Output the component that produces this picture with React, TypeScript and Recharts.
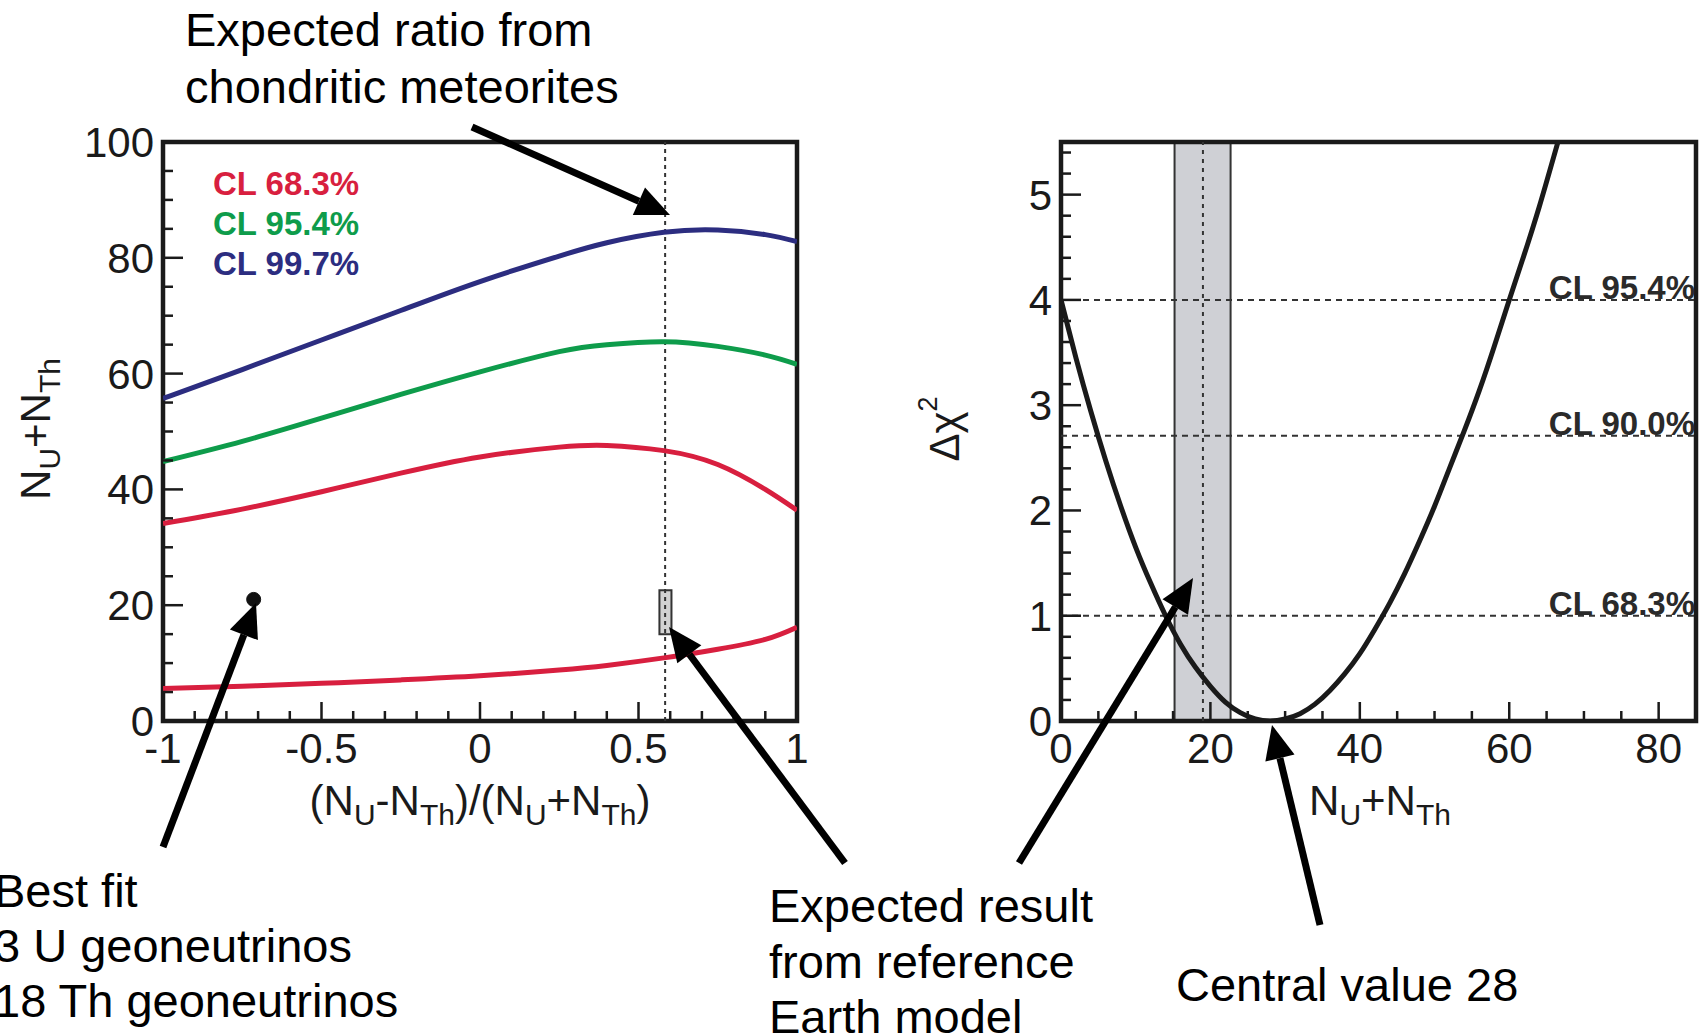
import React from "react";
import {
  LineChart,
  Line,
  XAxis,
  YAxis,
  ReferenceLine,
  ReferenceArea,
  ReferenceDot,
  Legend,
} from "recharts";

const FONT = "'Liberation Sans', Arial, Helvetica, sans-serif";
const INK = "#1a1a1a";

// ---- left panel: contours in (NU-NTh)/(NU+NTh) vs NU+NTh
const RATIO = [-1, -0.75, -0.5, -0.25, 0, 0.25, 0.4, 0.58, 0.75, 0.9, 1];
const CL683_UPPER = [34.1, 36.6, 39.6, 42.8, 45.6, 47.3, 47.6, 46.7, 44.3, 40.0, 36.4];
const CL683_LOWER = [5.6, 6.0, 6.5, 7.1, 7.8, 8.8, 9.6, 10.9, 12.4, 14.1, 16.2];
const CL954 = [44.8, 48.3, 52.3, 56.4, 60.3, 63.8, 65.0, 65.5, 64.7, 63.2, 61.6];
const CL997 = [55.7, 60.7, 65.8, 70.9, 75.9, 80.3, 82.6, 84.4, 84.8, 84.0, 82.8];

const BEST_FIT = { ratio: -0.714, total: 21 };
const CHONDRITIC_RATIO = 0.584;
const REF_BOX_RATIO = [0.566, 0.604];
const REF_BOX_TOTAL = [15.0, 22.6];

const LEFT_X_LABELS = [-1, -0.5, 0, 0.5, 1];
const LEFT_Y_LABELS = [0, 20, 40, 60, 80, 100];

// ---- right panel: delta chi2 profile
const N_TOTAL = [0, 2, 4, 6, 8, 10, 12, 14, 16, 18, 20, 22, 24, 26, 28, 30, 32, 34, 36, 38, 40, 42, 44, 46, 48, 50, 52, 54, 56, 58, 60, 62, 64, 66, 67];
const DELTA_CHI2 = [4.0, 3.45, 2.94, 2.47, 2.04, 1.65, 1.31, 1.0, 0.73, 0.51, 0.33, 0.18, 0.08, 0.02, 0, 0.02, 0.07, 0.16, 0.29, 0.45, 0.64, 0.87, 1.12, 1.4, 1.71, 2.04, 2.4, 2.76, 3.14, 3.56, 4.0, 4.43, 4.88, 5.37, 5.62];

const CL_LEVELS = [4, 2.71, 1];
const CL_LEVEL_LABELS = ["CL 95.4%", "CL 90.0%", "CL 68.3%"];
const REF_BAND = [15.2, 22.7];
const REF_CENTER = 19;

const RIGHT_X_LABELS = [0, 20, 40, 60, 80];
const RIGHT_Y_LABELS = [0, 1, 2, 3, 4, 5];

const leftData = RATIO.map((x, i) => ({
  x,
  up: CL683_UPPER[i],
  lo: CL683_LOWER[i],
  g: CL954[i],
  b: CL997[i],
}));
const rightData = N_TOTAL.map((n, i) => ({ n, d: DELTA_CHI2[i] }));

const steps = (from: number, to: number, step: number) => {
  const out: number[] = [];
  for (let v = from; v <= to + 1e-9; v += step) out.push(Math.round(v * 1000) / 1000);
  return out;
};

const isIn = (v: number, arr: number[]) => arr.some((a) => Math.abs(a - v) < 1e-6);

const makeXTick = (labels: number[]) => (props: any) => {
  const { x, y, payload } = props;
  const major = isIn(payload.value, labels);
  return (
    <g>
      <line x1={x} x2={x} y1={y} y2={y - (major ? 19 : 10)} stroke={INK} strokeWidth={2.5} />
      {major && (
        <text x={x} y={y + 42} textAnchor="middle" fontSize={42} fontFamily={FONT} fill={INK}>
          {String(payload.value)}
        </text>
      )}
    </g>
  );
};

const makeYTick = (labels: number[]) => (props: any) => {
  const { x, y, payload } = props;
  const major = isIn(payload.value, labels);
  return (
    <g>
      <line x1={x} x2={x + (major ? 20 : 10)} y1={y} y2={y} stroke={INK} strokeWidth={2.5} />
      {major && (
        <text x={x - 9} y={y + 15} textAnchor="end" fontSize={42} fontFamily={FONT} fill={INK}>
          {String(payload.value)}
        </text>
      )}
    </g>
  );
};

const LegendBox = (props: any) => {
  const items = (props.payload || []).filter((e: any) => e.type !== "none");
  return (
    <div style={{ fontFamily: FONT, fontWeight: "bold", fontSize: 33, lineHeight: "40px" }}>
      {items.map((e: any) => (
        <div key={e.value} style={{ color: e.color }}>
          {e.value}
        </div>
      ))}
    </div>
  );
};

// annotation arrows (page pixels)
const ARROWS = [
  [472, 127, 670, 215],
  [163, 847, 256, 603],
  [845, 863, 669, 627],
  [1019, 863, 1193, 578],
  [1320, 925, 1272, 725],
];

function Arrow({ a }: { a: number[] }) {
  const [x1, y1, x2, y2] = a;
  const ang = Math.atan2(y2 - y1, x2 - x1);
  const L = 34;
  const W = 15;
  const bx = x2 - L * Math.cos(ang);
  const by = y2 - L * Math.sin(ang);
  const px = -Math.sin(ang) * W;
  const py = Math.cos(ang) * W;
  return (
    <g>
      <line x1={x1} y1={y1} x2={bx} y2={by} stroke="#000" strokeWidth={7} />
      <polygon points={`${x2},${y2} ${bx + px},${by + py} ${bx - px},${by - py}`} fill="#000" />
    </g>
  );
}

// text made of [string, shift] pieces: shift 0 = normal, >0 = subscript, <0 = superscript
function Pieces({ parts, small }: { parts: [string, number][]; small: number }) {
  let cur = 0;
  return (
    <>
      {parts.map(([t, s], i) => {
        const dy = s - cur;
        cur = s;
        return (
          <tspan key={i} dy={dy} fontSize={s !== 0 ? small : undefined}>
            {t}
          </tspan>
        );
      })}
    </>
  );
}

const NU_NTH: [string, number][] = [["N", 0], ["U", 10], ["+N", 0], ["Th", 10]];
const RATIO_TITLE: [string, number][] = [
  ["(N", 0], ["U", 10], ["-N", 0], ["Th", 10], [")/(N", 0], ["U", 10], ["+N", 0], ["Th", 10], [")", 0],
];
const CHI_TITLE: [string, number][] = [["Δχ", 0], ["2", -22]];

export default function App() {
  return (
    <div style={{ position: "absolute", left: 0, top: 0, width: 1703, height: 1036, overflow: "hidden", background: "#fff", fontFamily: FONT }}>
      <div style={{ position: "absolute", left: 0, top: 0 }}>
        <LineChart width={820} height={860} data={leftData} margin={{ top: 142, right: 23, bottom: 0, left: 0 }}>
          <XAxis
            type="number"
            dataKey="x"
            domain={[-1, 1]}
            ticks={steps(-1, 1, 0.1)}
            interval={0}
            tickSize={0}
            tickMargin={0}
            axisLine={false}
            tickLine={false}
            height={139}
            allowDataOverflow
            tick={makeXTick(LEFT_X_LABELS)}
          />
          <YAxis
            type="number"
            domain={[0, 100]}
            ticks={steps(0, 100, 5)}
            interval={0}
            tickSize={0}
            tickMargin={0}
            axisLine={false}
            tickLine={false}
            width={163}
            allowDataOverflow
            tick={makeYTick(LEFT_Y_LABELS)}
          />
          <ReferenceArea
            x1={REF_BOX_RATIO[0]}
            x2={REF_BOX_RATIO[1]}
            y1={REF_BOX_TOTAL[0]}
            y2={REF_BOX_TOTAL[1]}
            fill="#d2d2d2"
            fillOpacity={1}
            stroke="#333"
            strokeWidth={2}
          />
          <ReferenceLine x={CHONDRITIC_RATIO} stroke="#333" strokeWidth={2} strokeDasharray="4 4" />
          <Line dataKey="up" name="CL 68.3%" type="natural" stroke="#d81f3f" strokeWidth={5} dot={false} isAnimationActive={false} />
          <Line dataKey="lo" name="CL 68.3% lower" legendType="none" type="natural" stroke="#d81f3f" strokeWidth={5} dot={false} isAnimationActive={false} />
          <Line dataKey="g" name="CL 95.4%" type="natural" stroke="#0e9c4b" strokeWidth={5} dot={false} isAnimationActive={false} />
          <Line dataKey="b" name="CL 99.7%" type="natural" stroke="#2c2d80" strokeWidth={5} dot={false} isAnimationActive={false} />
          <ReferenceDot x={BEST_FIT.ratio} y={BEST_FIT.total} r={7} fill="#111" stroke="#111" />
          <ReferenceArea x1={-1} x2={1} y1={0} y2={100} fill="none" fillOpacity={0} stroke={INK} strokeWidth={4.5} ifOverflow="visible" />
          <Legend
            layout="vertical"
            verticalAlign="middle"
            align="center"
            wrapperStyle={{ left: 213, top: 164, width: "auto" }}
            content={LegendBox}
          />
        </LineChart>
      </div>

      <div style={{ position: "absolute", left: 860, top: 0 }}>
        <LineChart width={843} height={860} data={rightData} margin={{ top: 142, right: 7, bottom: 0, left: 0 }}>
          <XAxis
            type="number"
            dataKey="n"
            domain={[0, 85]}
            ticks={steps(0, 85, 5)}
            interval={0}
            tickSize={0}
            tickMargin={0}
            axisLine={false}
            tickLine={false}
            height={139}
            allowDataOverflow
            tick={makeXTick(RIGHT_X_LABELS)}
          />
          <YAxis
            type="number"
            domain={[0, 5.5]}
            ticks={steps(0, 5.4, 0.2)}
            interval={0}
            tickSize={0}
            tickMargin={0}
            axisLine={false}
            tickLine={false}
            width={201}
            allowDataOverflow
            tick={makeYTick(RIGHT_Y_LABELS)}
          />
          <ReferenceArea x1={REF_BAND[0]} x2={REF_BAND[1]} y1={0} y2={5.5} fill="#cfd0d5" fillOpacity={1} stroke="#333" strokeWidth={2} />
          <ReferenceLine x={REF_CENTER} stroke="#333" strokeWidth={2} strokeDasharray="4 5" />
          {CL_LEVELS.map((lv, i) => (
            <ReferenceLine
              key={lv}
              y={lv}
              stroke="#333"
              strokeWidth={2}
              strokeDasharray="6 5"
              label={{
                value: CL_LEVEL_LABELS[i],
                position: "insideBottomRight",
                offset: 1,
                fill: "#2a2a2a",
                fontSize: 33,
                fontWeight: "bold",
                fontFamily: FONT,
              }}
            />
          ))}
          <Line dataKey="d" type="natural" stroke={INK} strokeWidth={5} dot={false} isAnimationActive={false} />
          <ReferenceArea x1={0} x2={85} y1={0} y2={5.5} fill="none" fillOpacity={0} stroke={INK} strokeWidth={4.5} ifOverflow="visible" />
        </LineChart>
      </div>

      <svg width={1703} height={1036} style={{ position: "absolute", left: 0, top: 0, pointerEvents: "none" }} fontFamily={FONT}>
        <g fontSize={47} fill="#000">
          <text x={185} y={46}>Expected ratio from</text>
          <text x={185} y={103}>chondritic meteorites</text>
          <text x={-6} y={907}>Best fit</text>
          <text x={-6} y={962}>3 U geoneutrinos</text>
          <text x={-6} y={1017}>18 Th geoneutrinos</text>
          <text x={769} y={922}>Expected result</text>
          <text x={769} y={978}>from reference</text>
          <text x={769} y={1033}>Earth model</text>
          <text x={1176} y={1001}>Central value 28</text>
        </g>
        <g fontSize={42} fill={INK}>
          <text x={480} y={815} textAnchor="middle">
            <Pieces parts={RATIO_TITLE} small={30} />
          </text>
          <text x={1380} y={815} textAnchor="middle">
            <Pieces parts={NU_NTH} small={30} />
          </text>
          <text x={50} y={429} textAnchor="middle" transform="rotate(-90 50 429)">
            <Pieces parts={NU_NTH} small={30} />
          </text>
          <text x={959} y={429} textAnchor="middle" transform="rotate(-90 959 429)">
            <Pieces parts={CHI_TITLE} small={27} />
          </text>
        </g>
        {ARROWS.map((a, i) => (
          <Arrow key={i} a={a} />
        ))}
      </svg>
    </div>
  );
}
